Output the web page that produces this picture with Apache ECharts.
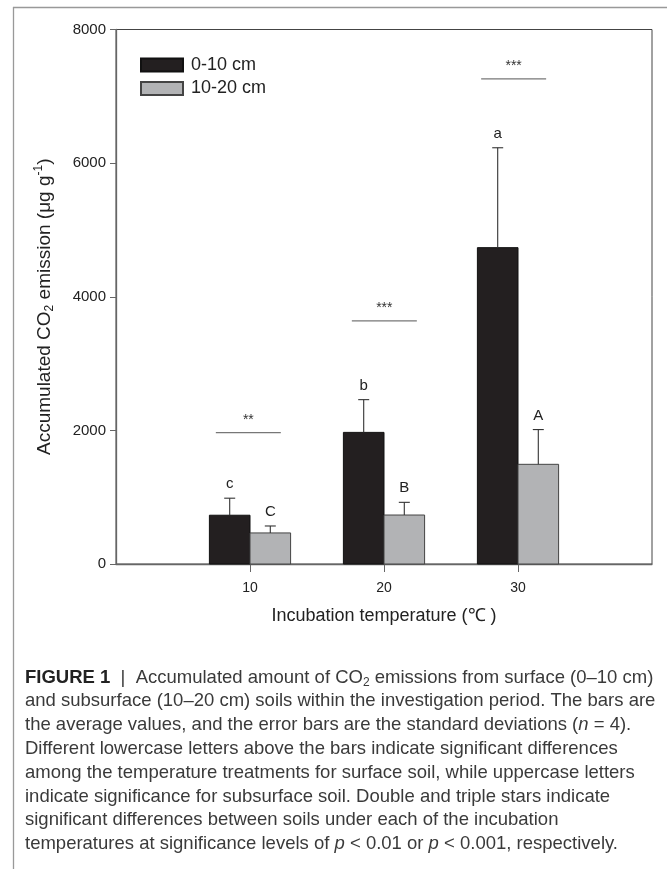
<!DOCTYPE html>
<html><head><meta charset="utf-8">
<script src="https://cdn.jsdelivr.net/npm/echarts@6/dist/echarts.min.js"></script>
<style>html,body{margin:0;padding:0;background:#fff}#c{width:667px;height:869px}</style>
</head><body><div id="c"></div>
<script>
// ---- data ----
const temperatures = [10, 20, 30];
const surfaceMean = [730, 1970, 4735];
const surfaceSD = [255, 490, 1495];
const subsurfaceMean = [465, 733, 1492];
const subsurfaceSD = [104, 190, 520];
const surfaceLetters = ['c', 'b', 'a'];
const subsurfaceLetters = ['C', 'B', 'A'];
const sigStars = ['**', '***', '***'];
const sigLevel = [1965, 3640, 7260];
const sigFrom = [7.45, 17.6, 27.25];
const sigTo = [12.3, 22.45, 32.1];
const xTicks = [10, 20, 30];
const yMin = 0, yMax = 8000, yStep = 2000;
const seriesNames = ['0-10 cm', '10-20 cm'];
const captionLines = [
  '{b|FIGURE 1}{sep|  |  }{r|Accumulated amount of CO}{sub|2}{r| emissions from surface (0–10 cm)}',
  '{r|and subsurface (10–20 cm) soils within the investigation period. The bars are}',
  '{r|the average values, and the error bars are the standard deviations (}{i|n}{r| = 4).}',
  '{r|Different lowercase letters above the bars indicate significant differences}',
  '{r|among the temperature treatments for surface soil, while uppercase letters}',
  '{r|indicate significance for subsurface soil. Double and triple stars indicate}',
  '{r|significant differences between soils under each of the incubation}',
  '{r|temperatures at significance levels of }{i|p}{r| < 0.01 or }{i|p}{r| < 0.001, respectively.}'
];

const HALF = 3.03; // bar width in x-axis units
const FONT = 'Liberation Sans, Arial, sans-serif';
const CAP = 18.5;

function barRenderer(side, fill, stroke, letters) {
  return function (params, api) {
    const x = api.value(0), m = api.value(1), sd = api.value(2);
    const base = api.coord([x, 0]);
    const top = api.coord([x + side * HALF, m]);
    const left = Math.min(base[0], top[0]);
    const w = Math.abs(top[0] - base[0]);
    const cx = left + w / 2;
    const errTop = api.coord([x, m + sd])[1];
    return {
      type: 'group',
      children: [
        { type: 'rect', shape: { x: left, y: top[1], width: w, height: base[1] - top[1] },
          style: { fill: fill, stroke: stroke, lineWidth: 1 } },
        { type: 'line', shape: { x1: cx, y1: top[1], x2: cx, y2: errTop },
          style: { stroke: '#333', lineWidth: 1.1 } },
        { type: 'line', shape: { x1: cx - 5.5, y1: errTop, x2: cx + 5.5, y2: errTop },
          style: { stroke: '#333', lineWidth: 1.1 } },
        { type: 'text', x: cx, y: errTop - 14,
          style: { text: letters[params.dataIndex], fill: '#222', font: '15px ' + FONT,
                   align: 'center', verticalAlign: 'middle' } }
      ]
    };
  };
}

function sigRenderer(params, api) {
  const a = api.coord([api.value(0), api.value(2)]);
  const b = api.coord([api.value(1), api.value(2)]);
  return {
    type: 'group',
    children: [
      { type: 'line', shape: { x1: a[0], y1: a[1], x2: b[0], y2: b[1] },
        style: { stroke: '#777', lineWidth: 1.2 } },
      { type: 'text', x: (a[0] + b[0]) / 2, y: a[1] - 13,
        style: { text: sigStars[params.dataIndex], fill: '#333', font: '14px ' + FONT,
                 align: 'center', verticalAlign: 'middle' } }
    ]
  };
}

const chart = echarts.init(document.getElementById('c'), null, { renderer: 'canvas' });

const captionGraphics = captionLines.map((t, i) => ({
  type: 'text', left: 25, top: 668 + i * 23.8,
  style: {
    text: t, fill: '#333',
    rich: {
      b: { fontFamily: FONT, fontSize: CAP, fontWeight: 'bold', fill: '#222', lineHeight: 23 },
      sep: { fontFamily: FONT, fontSize: CAP, fill: '#3a3a3a', lineHeight: 23 },
      r: { fontFamily: FONT, fontSize: CAP, fill: '#3a3a3a', lineHeight: 23 },
      i: { fontFamily: FONT, fontSize: CAP, fontStyle: 'italic', fill: '#3a3a3a', lineHeight: 23 },
      sub: { fontFamily: FONT, fontSize: 12, fill: '#3a3a3a', lineHeight: 13, verticalAlign: 'bottom' }
    }
  }
}));

chart.setOption({
  animation: false,
  backgroundColor: '#fff',
  textStyle: { fontFamily: FONT },
  grid: { left: 116, right: 15, top: 29.5, bottom: 305, show: true, borderColor: '#444', borderWidth: 1, containLabel: false },
  legend: {
    data: seriesNames, orient: 'vertical', left: 140, top: 56, padding: 0,
    itemWidth: 42, itemHeight: 13, itemGap: 5.4, icon: 'rect',
    textStyle: { fontSize: 18, color: '#222', fontFamily: FONT, padding: [0, 0, 0, 3] }
  },
  xAxis: {
    type: 'value', min: 0, max: 40,
    name: 'Incubation temperature (℃ )', nameLocation: 'middle', nameGap: 43,
    nameTextStyle: { fontSize: 18, color: '#222', fontFamily: FONT },
    axisLine: { lineStyle: { color: '#666', width: 1.3 } },
    axisTick: { show: true, length: 8, customValues: xTicks, lineStyle: { color: '#666' } },
    axisLabel: { customValues: xTicks, margin: 17, fontSize: 14, color: '#222' },
    splitLine: { show: false }
  },
  yAxis: {
    type: 'value', min: yMin, max: yMax, interval: yStep,
    name: '{n|Accumulated CO}{sub|2}{n| emission (μg g}{sup|-1}{n|)}',
    nameLocation: 'middle', nameGap: 60, nameRotate: 90,
    nameTextStyle: {
      fontSize: 19, color: '#222', padding: [0, 20, 0, 0],
      rich: {
        n: { fontSize: 19, color: '#222', fontFamily: FONT, lineHeight: 23 },
        sub: { fontSize: 12, color: '#222', fontFamily: FONT, lineHeight: 13, verticalAlign: 'bottom' },
        sup: { fontSize: 12, color: '#222', fontFamily: FONT, lineHeight: 13, verticalAlign: 'top' }
      }
    },
    axisLine: { show: true, lineStyle: { color: '#666', width: 1.3 } },
    axisTick: { show: true, length: 6, lineStyle: { color: '#666' } },
    axisLabel: { margin: 10, fontSize: 15, color: '#222', formatter: v => String(v) },
    splitLine: { show: false }
  },
  graphic: [
    { type: 'line', shape: { x1: 13.5, y1: 7, x2: 13.5, y2: 869 }, style: { stroke: '#999', lineWidth: 1.3 } },
    { type: 'line', shape: { x1: 13, y1: 7.5, x2: 667, y2: 7.5 }, style: { stroke: '#999', lineWidth: 1.3 } }
  ].concat(captionGraphics),
  series: [
    {
      name: seriesNames[0], type: 'custom', clip: false,
      itemStyle: { color: '#231f20', borderColor: '#111', borderWidth: 1 },
      renderItem: barRenderer(-1, '#231f20', '#111', surfaceLetters),
      encode: { x: 0, y: [1, 2] },
      data: temperatures.map((t, i) => [t, surfaceMean[i], surfaceSD[i]])
    },
    {
      name: seriesNames[1], type: 'custom', clip: false,
      itemStyle: { color: '#b2b3b5', borderColor: '#444', borderWidth: 1 },
      renderItem: barRenderer(1, '#b2b3b5', '#444', subsurfaceLetters),
      encode: { x: 0, y: [1, 2] },
      data: temperatures.map((t, i) => [t, subsurfaceMean[i], subsurfaceSD[i]])
    },
    {
      name: 'sig', type: 'custom', clip: false, silent: true,
      renderItem: sigRenderer,
      encode: { x: [0, 1], y: 2 },
      data: temperatures.map((t, i) => [sigFrom[i], sigTo[i], sigLevel[i]])
    }
  ]
});
</script>
</body></html>
